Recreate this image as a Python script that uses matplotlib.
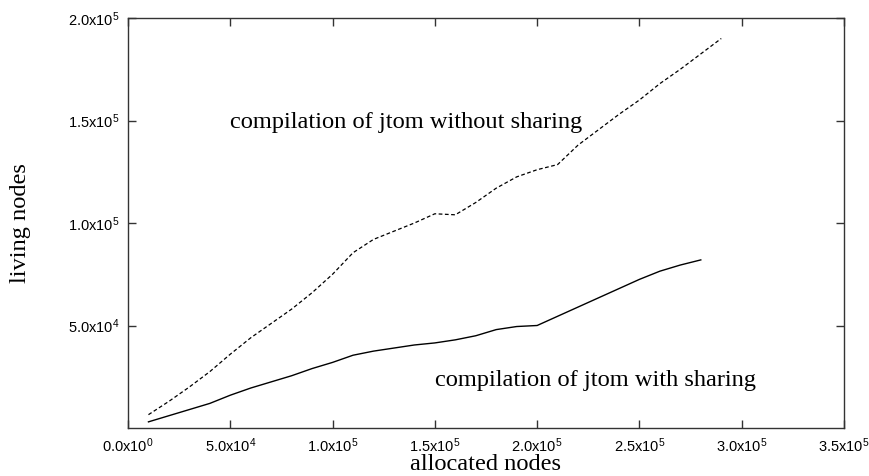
import matplotlib
matplotlib.use("Agg")
import matplotlib.pyplot as plt

plt.rcParams['mathtext.fontset'] = 'custom'
plt.rcParams['mathtext.rm'] = 'Liberation Sans'
plt.rcParams['mathtext.it'] = 'Liberation Sans'

x_nosharing = [1e4, 2e4, 3e4, 4e4, 5e4, 6e4, 7e4, 8e4, 9e4, 1.0e5, 1.1e5, 1.2e5, 1.3e5, 1.4e5, 1.5e5,
               1.6e5, 1.7e5, 1.8e5, 1.9e5, 2.0e5, 2.1e5, 2.2e5, 2.3e5, 2.4e5, 2.5e5, 2.6e5, 2.7e5,
               2.8e5, 2.9e5]
y_nosharing = [6.5e3, 1.3e4, 2.0e4, 2.75e4, 3.6e4, 4.4e4, 5.1e4, 5.8e4, 6.6e4, 7.5e4, 8.55e4, 9.2e4,
               9.6e4, 1.0e5, 1.045e5, 1.04e5, 1.1e5, 1.17e5, 1.225e5, 1.26e5, 1.285e5, 1.38e5,
               1.455e5, 1.53e5, 1.6e5, 1.68e5, 1.75e5, 1.825e5, 1.9e5]

x_sharing = [1e4, 2e4, 3e4, 4e4, 5e4, 6e4, 7e4, 8e4, 9e4, 1.0e5, 1.1e5, 1.2e5, 1.3e5, 1.4e5, 1.5e5,
             1.6e5, 1.7e5, 1.8e5, 1.9e5, 2.0e5, 2.1e5, 2.2e5, 2.3e5, 2.4e5, 2.5e5, 2.6e5, 2.7e5, 2.8e5]
y_sharing = [3e3, 6e3, 9e3, 1.2e4, 1.6e4, 1.95e4, 2.25e4, 2.55e4, 2.9e4, 3.2e4, 3.55e4, 3.75e4, 3.9e4,
             4.05e4, 4.15e4, 4.3e4, 4.5e4, 4.8e4, 4.95e4, 5.0e4, 5.45e4, 5.9e4, 6.35e4, 6.8e4,
             7.25e4, 7.65e4, 7.95e4, 8.2e4]

x_ticks = [0, 5e4, 1e5, 1.5e5, 2e5, 2.5e5, 3e5, 3.5e5]
x_ticklabels = [r'0.0x10$^{0}$', r'5.0x10$^{4}$', r'1.0x10$^{5}$', r'1.5x10$^{5}$',
                r'2.0x10$^{5}$', r'2.5x10$^{5}$', r'3.0x10$^{5}$', r'3.5x10$^{5}$']
y_ticks = [5e4, 1e5, 1.5e5, 2e5]
y_ticklabels = [r'5.0x10$^{4}$', r'1.0x10$^{5}$', r'1.5x10$^{5}$', r'2.0x10$^{5}$']

label_nosharing = 'compilation of jtom without sharing'
label_sharing = 'compilation of jtom with sharing'

fig = plt.figure(figsize=(8.7, 4.76), dpi=100)
ax = fig.add_axes([128/870, 1 - 428/476, (844-128)/870, (428-18)/476])

ax.plot(x_nosharing, y_nosharing, color='black', lw=0.9, linestyle=(0, (3, 2)))
ax.plot(x_sharing, y_sharing, color='black', lw=1.0)

ax.set_xlim(0, 3.5e5)
ax.set_ylim(0, 2e5)
ax.set_xticks(x_ticks)
ax.set_xticklabels(x_ticklabels, fontfamily='Liberation Sans', fontsize=10.5)
ax.set_yticks(y_ticks)
ax.set_yticklabels(y_ticklabels, fontfamily='Liberation Sans', fontsize=10.5)
ax.tick_params(direction='in', length=6, width=1, top=True, right=True, pad=6, color='#333333')
for s in ax.spines.values():
    s.set_linewidth(1.0)
    s.set_color('#333333')

ax.text(5e4, 1.49e5, label_nosharing, fontfamily='Liberation Serif', fontsize=17.6, va='center', ha='left')
ax.text(1.5e5, 2.34e4, label_sharing, fontfamily='Liberation Serif', fontsize=17.6, va='center', ha='left')

ax.set_xlabel('allocated nodes', fontfamily='Liberation Serif', fontsize=17.6, labelpad=-1)
ax.set_ylabel('living nodes', fontfamily='Liberation Serif', fontsize=17.6, labelpad=27)

fig.savefig('out.png', dpi=100)
